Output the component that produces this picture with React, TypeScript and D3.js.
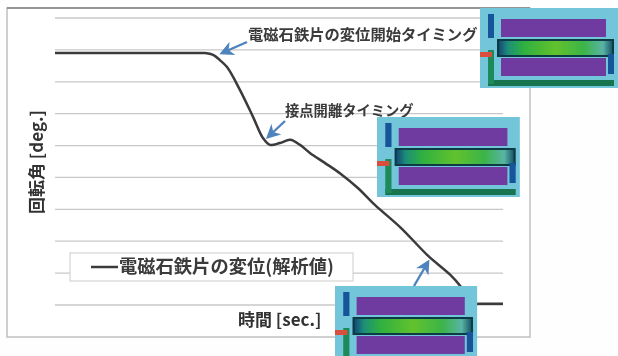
import React, { useEffect, useRef } from 'react';
import * as d3 from 'd3';

// time (arbitrary units, axis has no numbers) and rotation angle (one unit = one gridline)
const times = [0, 1.5, 3, 3.2, 3.35, 3.53, 3.68, 3.84, 4.13, 4.42, 4.64, 4.8, 5.02, 5.25, 5.47, 5.69, 6.03, 6.38, 6.76, 7.14, 7.72, 8.33, 8.82, 9.06, 9.31, 9.45, 9.6, 10];
const angles = [1.1, 1.1, 1.1, 1.1, 1.1, 1.16, 1.32, 1.54, 2.26, 3.1, 3.76, 3.98, 3.92, 3.82, 3.98, 4.23, 4.55, 4.89, 5.33, 5.86, 6.58, 7.46, 8.05, 8.43, 8.96, 8.96, 8.96, 8.96];
const gridLines = [0, 1, 2, 3, 4, 5, 6, 7, 8, 9];

const seriesName = '電磁石鉄片の変位(解析値)';
const xTitle = '時間 [sec.]';
const yTitle = '回転角 [deg.]';
const startLabel = '電磁石鉄片の変位開始タイミング';
const contactLabel = '接点開離タイミング';

const font = '"Noto Sans CJK JP", "Noto Sans", sans-serif';

const App = () => {
  const svgRef = useRef<SVGSVGElement>(null);

  useEffect(() => {
    const svg = d3.select(svgRef.current);
    svg.selectAll('*').remove();

    const x = d3.scaleLinear().domain([0, 10]).range([55, 503]);
    const y = d3.scaleLinear().domain([0, 9]).range([18, 305]);

    const defs = svg.append('defs');
    defs.append('filter').attr('id', 'soft').append('feGaussianBlur').attr('stdDeviation', 0.6);
    const grad = defs.append('linearGradient').attr('id', 'bar');
    [['0', '#124a78'], ['0.08', '#1d8f78'], ['0.22', '#2fb040'], ['0.5', '#62c22c'], ['0.75', '#3cb448'], ['0.92', '#58b4a4'], ['1', '#1a5a6a']]
      .forEach(([o, c]) => grad.append('stop').attr('offset', o).attr('stop-color', c));
    const marker = defs.append('marker').attr('id', 'head').attr('viewBox', '0 0 10 10')
      .attr('refX', 8).attr('refY', 5).attr('markerWidth', 6).attr('markerHeight', 6)
      .attr('orient', 'auto');
    marker.append('path').attr('d', 'M0,0L10,5L0,10L3,5Z').attr('fill', '#4f83bd');

    const root = svg.append('g').attr('filter', 'url(#soft)');
    root.append('rect').attr('width', 618).attr('height', 356).attr('fill', '#fefefe');

    // chart frame
    root.append('rect').attr('x', 7).attr('y', 8).attr('width', 523).attr('height', 329)
      .attr('fill', '#fff').attr('stroke', '#c0c0c0').attr('stroke-width', 1.5);
    root.append('line').attr('x1', 7).attr('x2', 530).attr('y1', 8).attr('y2', 8)
      .attr('stroke', '#808080').attr('stroke-width', 1.5);

    root.append('g').selectAll('line').data(gridLines).enter().append('line')
      .attr('x1', x(0)).attr('x2', x(10))
      .attr('y1', (d) => y(d)).attr('y2', (d) => y(d))
      .attr('stroke', '#c8c8c8').attr('stroke-width', 1.3);

    const line = d3.line<number>()
      .x((d) => x(d))
      .y((_, i) => y(angles[i]))
      .curve(d3.curveCatmullRom.alpha(0.5));
    root.append('path').attr('d', line(times)).attr('fill', 'none')
      .attr('stroke', '#3b3b3b').attr('stroke-width', 2.5);

    // legend
    root.append('rect').attr('x', 70).attr('y', 253).attr('width', 283).attr('height', 28)
      .attr('fill', '#fff').attr('stroke', '#cccccc');
    root.append('line').attr('x1', 91).attr('x2', 118).attr('y1', 267).attr('y2', 267)
      .attr('stroke', '#3b3b3b').attr('stroke-width', 2.5);
    root.append('text').text(seriesName).attr('x', 119).attr('y', 273)
      .attr('font-size', 18.3).attr('font-weight', 700).attr('fill', '#3a3a3a').attr('font-family', font);

    root.append('text').text(startLabel).attr('x', 248).attr('y', 40)
      .attr('font-size', 15.3).attr('font-weight', 700).attr('fill', '#3a3a3a').attr('font-family', font);
    root.append('text').text(contactLabel).attr('x', 285).attr('y', 116)
      .attr('font-size', 14.3).attr('font-weight', 700).attr('fill', '#3a3a3a').attr('font-family', font);
    root.append('text').text(xTitle).attr('x', 238).attr('y', 326)
      .attr('font-size', 17).attr('font-weight', 700).attr('fill', '#333').attr('font-family', font);
    root.append('text').text(yTitle).attr('transform', 'translate(43,214) rotate(-90)')
      .attr('font-size', 17).attr('font-weight', 700).attr('fill', '#333').attr('font-family', font);

    // arrows pointing at the curve
    const arrows = [[247, 42, 222, 53], [285, 121, 268, 137], [414, 286, 428, 262]];
    root.append('g').selectAll('line').data(arrows).enter().append('line')
      .attr('x1', (d) => d[0]).attr('y1', (d) => d[1]).attr('x2', (d) => d[2]).attr('y2', (d) => d[3])
      .attr('stroke', '#4f83bd').attr('stroke-width', 2.4).attr('marker-end', 'url(#head)');

    // simulation thumbnails
    const thumbs = [[480, 8, 1], [377, 117, 1.035], [335, 286, 1.03]];
    const thumb = root.append('g').selectAll('g').data(thumbs).enter().append('g')
      .attr('transform', (d) => `translate(${d[0]},${d[1]}) scale(${d[2]},1)`);
    const part = (px: number, py: number, w: number, h: number, c: string) =>
      thumb.append('rect').attr('x', px).attr('y', py).attr('width', w).attr('height', h).attr('fill', c);
    part(0, 0, 138, 80, '#73c6da');
    part(8, 72, 126, 6, '#12744f');
    part(8, 42, 6, 34, '#1d8a5a');
    part(8, 6, 6, 24, '#17549a');
    part(21, 11, 105, 18, '#6f3aa0');
    part(21, 50, 105, 18, '#6f3aa0');
    part(17, 31, 117, 18, '#103a44');
    part(19, 33, 113, 14, 'url(#bar)');
    part(128, 46, 6, 20, '#17549a');
    part(0, 44, 12, 5, '#d8503c');
  }, []);

  return <svg ref={svgRef} width={618} height={356} style={{ position: 'absolute', left: 0, top: 0 }} />;
};

export default App;
